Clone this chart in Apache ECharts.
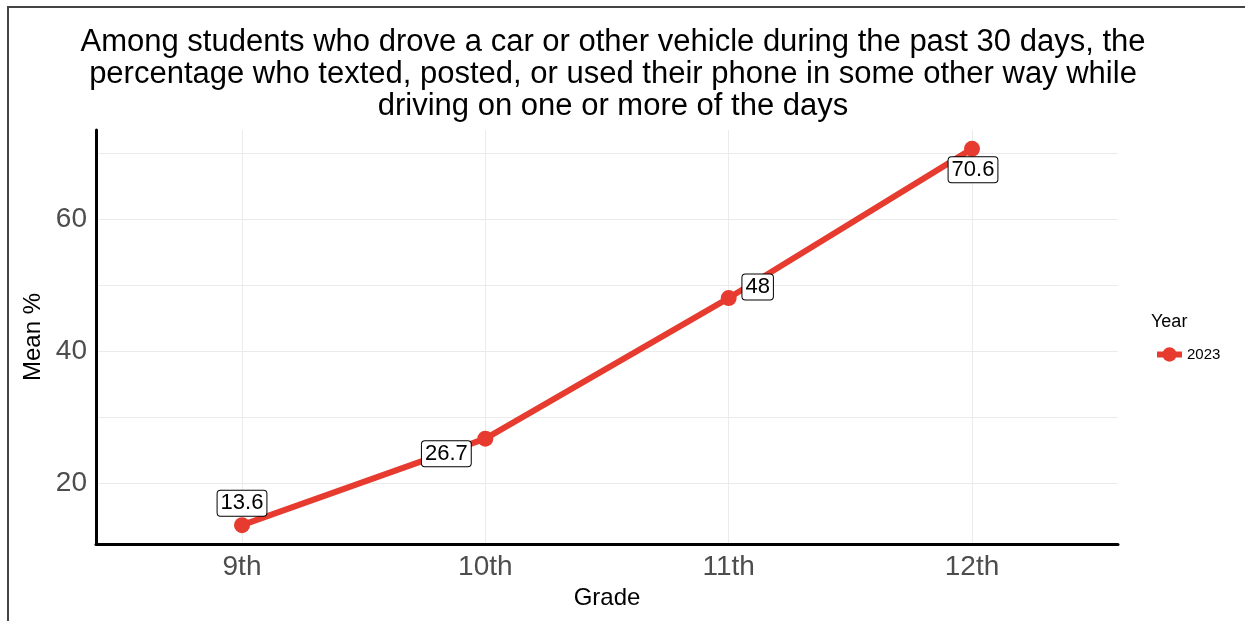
<!DOCTYPE html>
<html>
<head>
<meta charset="utf-8">
<script src="https://cdn.jsdelivr.net/npm/echarts@6/dist/echarts.min.js"></script>
<style>
  html, body { margin: 0; padding: 0; background: #fff; }
  #d { width: 1245px; height: 621px; }
</style>
</head>
<body>
<div id="d"></div>
<script>
var grades = ['9th', '10th', '11th', '12th'];
var mean2023 = [13.6, 26.7, 48, 70.6];
var yTicks = [20, 40, 60];
var yGrid = [20, 30, 40, 50, 60, 70];
// label nudges (ggrepel style)
var labelOffsets = [[0, -22], [-39, 15], [29, -11], [1, 21]];

var myChart = echarts.init(document.getElementById('d'));

var pts = [];
for (var i = 0; i < grades.length; i++) {
  pts.push({
    value: [i, mean2023[i]],
    label: { offset: labelOffsets[i] }
  });
}

var option = {
  animation: false,
  title: [{
    text: 'Among students who drove a car or other vehicle during the past 30 days, the\npercentage who texted, posted, or used their phone in some other way while\ndriving on one or more of the days',
    left: 608,
    top: 21,
    textAlign: 'center',
    textStyle: {
      fontFamily: 'Liberation Sans',
      fontWeight: 'normal',
      fontSize: 31,
      lineHeight: 32,
      color: '#000'
    }
  }, {
    text: 'Year',
    left: 1146,
    top: 308,
    textStyle: { fontFamily: 'Liberation Sans', fontWeight: 'normal', fontSize: 18, color: '#000' }
  }],
  legend: {
    data: ['2023'],
    orient: 'vertical',
    left: 1149,
    top: 342,
    itemWidth: 25,
    itemHeight: 18,
    itemGap: 8,
    lineStyle: { width: 6 },
    textStyle: { fontFamily: 'Liberation Sans', fontSize: 15, color: '#000' }
  },
  grid: { left: 96, right: 127, top: 130, bottom: 77 },
  xAxis: {
    type: 'value',
    min: -0.6,
    max: 3.6,
    name: 'Grade',
    nameLocation: 'middle',
    nameGap: 40,
    nameTextStyle: { fontFamily: 'Liberation Sans', fontSize: 24, color: '#000' },
    axisLine: { show: true, onZero: false, lineStyle: { color: '#000', width: 3 } },
    axisTick: { show: false, customValues: [0, 1, 2, 3] },
    axisLabel: {
      customValues: [0, 1, 2, 3],
      margin: 9,
      fontFamily: 'Liberation Sans',
      fontSize: 28,
      color: '#4d4d4d',
      formatter: function (v) { return grades[Math.round(v)]; }
    },
    splitLine: { show: true, lineStyle: { color: '#ebebeb', width: 1 } }
  },
  yAxis: {
    type: 'value',
    min: 10.75,
    max: 73.45,
    name: 'Mean %',
    nameLocation: 'middle',
    nameGap: 48,
    nameTextStyle: { fontFamily: 'Liberation Sans', fontSize: 24, color: '#000' },
    axisLine: { show: true, onZero: false, lineStyle: { color: '#000', width: 3 } },
    axisTick: { show: false, customValues: yGrid },
    axisLabel: {
      customValues: yTicks,
      margin: 9,
      fontFamily: 'Liberation Sans',
      fontSize: 28,
      color: '#4d4d4d'
    },
    splitLine: { show: true, lineStyle: { color: '#ebebeb', width: 1 } }
  },
  series: [{
    name: '2023',
    type: 'line',
    data: pts,
    symbol: 'circle',
    symbolSize: 16,
    itemStyle: { color: '#e63b2e' },
    lineStyle: { color: '#e63b2e', width: 6 },
    label: {
      show: true,
      position: 'inside',
      formatter: function (p) { return String(p.value[1]); },
      fontFamily: 'Liberation Sans',
      fontSize: 22,
      lineHeight: 22,
      color: '#000',
      backgroundColor: '#fff',
      borderColor: '#000',
      borderWidth: 1,
      borderRadius: 3,
      padding: [2, 3, 1, 3]
    }
  }],
  graphic: [{
    type: 'polyline',
    shape: { points: [[8, 621], [8, 7], [1245, 7]] },
    style: { stroke: '#444', lineWidth: 2, fill: null }
  }]
};

option && myChart.setOption(option);
window.addEventListener('resize', function () {
  myChart.resize();
});
</script>
</body>
</html>
